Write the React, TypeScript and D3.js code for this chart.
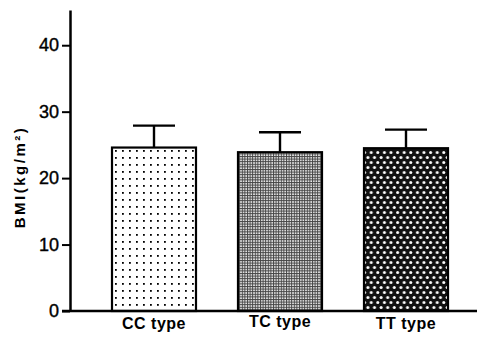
import React, { useEffect, useRef } from "react";
import * as d3 from "d3";

const categories = ["CC type", "TC type", "TT type"];
const means = [24.6, 23.9, 24.5];
const errors = [3.3, 3.0, 2.8];
const yTicks = [0, 10, 20, 30, 40];
const patterns = ["dotsSparse", "meshGray", "dotsDark"];

const W = 484;
const H = 342;

const App = () => {
  const svgRef = useRef<SVGSVGElement>(null);

  useEffect(() => {
    const svg = d3.select(svgRef.current);
    svg.selectAll("*").remove();

    var x = d3.scaleBand().domain(categories).range([70, 490]).paddingInner(1 / 3).paddingOuter(1 / 3);
    var y = d3.scaleLinear().domain([0, 45.3]).range([311, 10]);

    // fill patterns
    const defs = svg.append("defs");
    const p1 = defs.append("pattern").attr("id", "dotsSparse").attr("patternUnits", "userSpaceOnUse")
      .attr("width", 7).attr("height", 7);
    p1.append("rect").attr("width", 7).attr("height", 7).attr("fill", "#fff");
    p1.append("rect").attr("x", 3).attr("y", 3).attr("width", 1.8).attr("height", 1.8).attr("fill", "#000");

    const p2 = defs.append("pattern").attr("id", "meshGray").attr("patternUnits", "userSpaceOnUse")
      .attr("width", 2.6).attr("height", 2.6);
    p2.append("rect").attr("width", 2.6).attr("height", 2.6).attr("fill", "#eee");
    p2.append("rect").attr("width", 2.6).attr("height", 1).attr("fill", "#444");
    p2.append("rect").attr("width", 1).attr("height", 2.6).attr("fill", "#444");

    const p3 = defs.append("pattern").attr("id", "dotsDark").attr("patternUnits", "userSpaceOnUse")
      .attr("width", 6.6).attr("height", 10);
    p3.append("rect").attr("width", 6.6).attr("height", 10).attr("fill", "#111");
    p3.append("circle").attr("cx", 1.6).attr("cy", 2.5).attr("r", 1.5).attr("fill", "#fff");
    p3.append("circle").attr("cx", 4.9).attr("cy", 7.5).attr("r", 1.5).attr("fill", "#fff");

    // bars
    svg.append("g").selectAll("rect").data(categories).enter().append("rect")
      .attr("x", (d) => x(d)!)
      .attr("y", (d, i) => y(means[i]))
      .attr("width", x.bandwidth())
      .attr("height", (d, i) => y(0) - y(means[i]))
      .attr("fill", (d, i) => "url(#" + patterns[i] + ")")
      .attr("stroke", "#000")
      .attr("stroke-width", 2.2);

    // error bars (upper only)
    const eb = svg.append("g").attr("stroke", "#000").attr("stroke-width", 2.4);
    categories.forEach((c, i) => {
      const cx = x(c)! + x.bandwidth() / 2;
      eb.append("line").attr("x1", cx).attr("x2", cx).attr("y1", y(means[i])).attr("y2", y(means[i] + errors[i]));
      eb.append("line").attr("x1", cx - 21).attr("x2", cx + 21)
        .attr("y1", y(means[i] + errors[i])).attr("y2", y(means[i] + errors[i]));
    });

    // y axis
    const axis = d3.axisLeft(y).tickValues(yTicks).tickSize(8).tickSizeOuter(0).tickPadding(3);
    const ga = svg.append("g").attr("transform", "translate(70,0)").call(axis);
    ga.select(".domain").attr("stroke", "#000").attr("stroke-width", 2.5);
    ga.selectAll(".tick line").attr("stroke", "#000").attr("stroke-width", 2);
    ga.selectAll(".tick text")
      .attr("font-family", "Liberation Sans, Arial, sans-serif")
      .attr("font-size", 18)
      .attr("fill", "#000")
      .attr("stroke", "#000")
      .attr("stroke-width", 0.4);

    // baseline
    svg.append("line").attr("x1", 62).attr("x2", 477).attr("y1", y(0)).attr("y2", y(0))
      .attr("stroke", "#000").attr("stroke-width", 2.5);

    // category labels
    svg.append("g").selectAll("text").data(categories).enter().append("text")
      .attr("x", (d) => x(d)! + x.bandwidth() / 2)
      .attr("y", (d, i) => (i === 1 ? 327 : 329))
      .attr("text-anchor", "middle")
      .attr("font-family", "Liberation Sans, Arial, sans-serif")
      .attr("font-weight", "bold")
      .attr("font-size", 16)
      .attr("letter-spacing", 0.5)
      .text((d) => d);

    // y title
    svg.append("text")
      .attr("transform", "translate(25,177) rotate(-90)")
      .attr("text-anchor", "middle")
      .attr("font-family", "Liberation Sans, Arial, sans-serif")
      .attr("font-weight", "bold")
      .attr("font-size", 15)
      .attr("letter-spacing", 2.5)
      .text("BMI(kg/m²)");
  }, []);

  return (
    <svg
      ref={svgRef}
      width={W}
      height={H}
      style={{ position: "absolute", left: 0, top: 0, background: "#fff" }}
    ></svg>
  );
};

export default App;
